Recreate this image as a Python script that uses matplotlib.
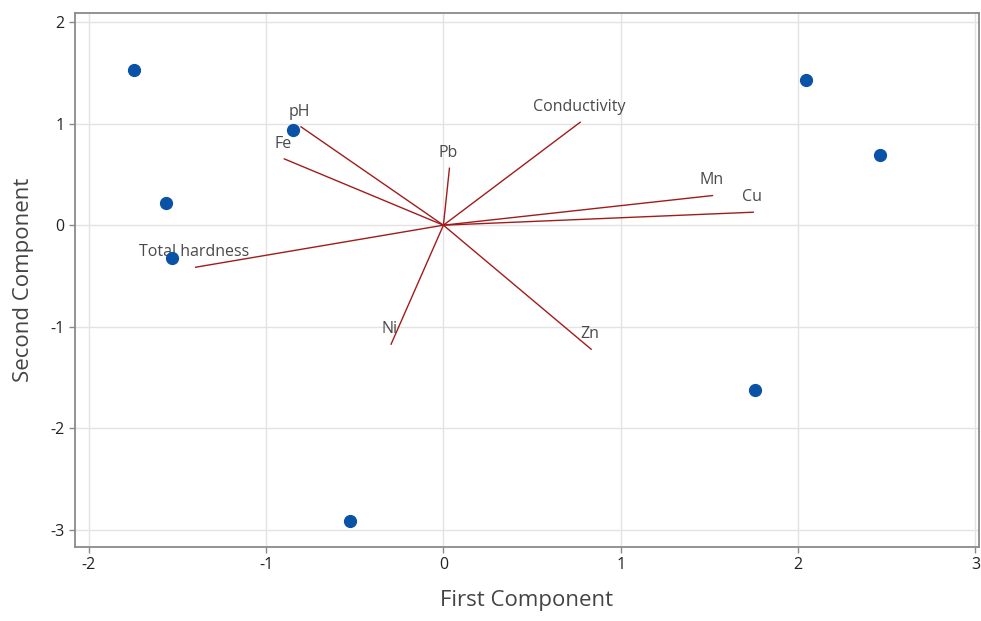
import matplotlib
matplotlib.use('Agg')
import matplotlib.pyplot as plt

# scores (first, second component)
score_x = [-1.742, -1.562, -1.532, -0.849, -0.526, 1.754, 2.045, 2.463]
score_y = [1.533, 0.220, -0.319, 0.939, -2.916, -1.620, 1.431, 0.693]

# loadings
var_names = ['pH', 'Fe', 'Total hardness', 'Pb', 'Conductivity', 'Mn', 'Cu', 'Ni', 'Zn']
load_x = [-0.803, -0.897, -1.397, 0.034, 0.771, 1.517, 1.747, -0.295, 0.833]
load_y = [0.969, 0.653, -0.414, 0.561, 1.014, 0.292, 0.128, -1.172, -1.222]

x_ticks = [-2, -1, 0, 1, 2, 3]
y_ticks = [-3, -2, -1, 0, 1, 2]

plt.rcParams['font.family'] = ['Open Sans', 'DejaVu Sans']

fig = plt.figure(figsize=(9.81, 6.21), dpi=100)
ax = fig.add_axes([0.0765, 0.1197, 0.9215, 0.8593])

ax.grid(True, color='#e3e3e3', linewidth=1.0, zorder=0)
ax.set_axisbelow(True)

for lx, ly, name in zip(load_x, load_y, var_names):
    ax.plot([0, lx], [0, ly], color='#a01c1c', linewidth=1.0, zorder=2)
    ax.annotate(name, (lx, ly), xytext=(-1, 11), textcoords='offset points',
                ha='center', va='center', fontsize=11.5, color='#4a4a4a', zorder=3)

ax.plot(score_x, score_y, 'o', color='#0a52a5', markersize=8.5, zorder=4)

ax.set_xlim(-2.077, 3.02)
ax.set_ylim(-3.167, 2.09)
ax.set_xticks(x_ticks)
ax.set_yticks(y_ticks)
ax.set_xticklabels([str(t) for t in x_ticks])
ax.set_yticklabels([str(t) for t in y_ticks])

for s in ax.spines.values():
    s.set_color('#8a8a8a')
    s.set_linewidth(1.3)
ax.tick_params(direction='out', length=4, width=1.0, color='#8a8a8a',
               labelsize=11.5, labelcolor='#222222')

ax.set_xlabel('First Component', fontsize=16, color='#444444', labelpad=12)
ax.set_ylabel('Second Component', fontsize=16, color='#444444', labelpad=12)

fig.savefig('out.png', dpi=100)
